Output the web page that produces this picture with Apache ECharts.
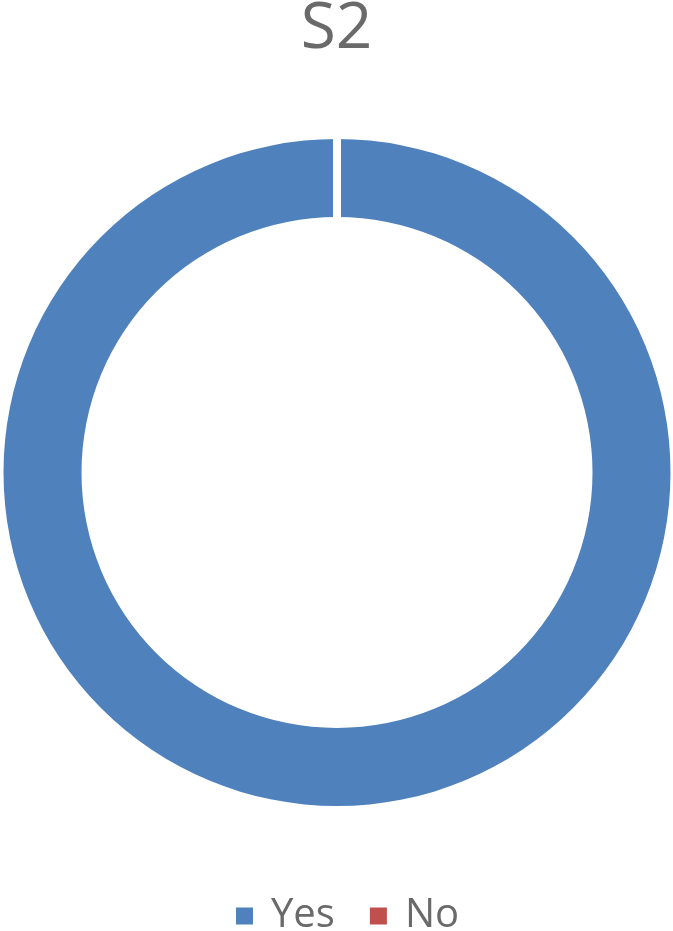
<!DOCTYPE html>
<html>
<head>
<meta charset="utf-8">
<script src="https://cdn.jsdelivr.net/npm/echarts@6/dist/echarts.min.js"></script>
<style>
  html, body { margin: 0; padding: 0; background: #fff; }
  #chart { width: 673px; height: 931px; }
</style>
</head>
<body>
<div id="chart"></div>
<script>
// data
var categories = ['Yes', 'No'];
var values = [100, 0];
var colors = ['#4F81BD', '#C0504D'];
var titleText = 'S2';

var textColor = '#6a6a6a';
var fontFamily = '"Open Sans", "Noto Sans", sans-serif';

var myChart = echarts.init(document.getElementById('chart'));

var pieData = categories.map(function (name, i) {
  var item = { name: name, value: values[i], itemStyle: { color: colors[i] } };
  if (values[i] === 0) {
    // zero slice shows up as the white cut at the top
    item.itemStyle.borderColor = '#ffffff';
    item.itemStyle.borderWidth = 8;
  }
  return item;
});

var option = {
  backgroundColor: '#ffffff',
  animation: false,
  title: {
    text: titleText,
    left: 'center',
    top: -7,
    textStyle: {
      fontFamily: fontFamily,
      fontSize: 64,
      fontWeight: 'normal',
      color: textColor
    }
  },
  legend: {
    data: categories,
    left: 231,
    top: 889,
    icon: 'rect',
    itemWidth: 17,
    itemHeight: 17,
    itemGap: 35,
    itemStyle: { borderWidth: 0 },
    textStyle: {
      fontFamily: fontFamily,
      fontSize: 40,
      lineHeight: 44,
      color: textColor,
      padding: [0, 0, 0, 13]
    }
  },
  tooltip: { show: false },
  series: [
    {
      name: titleText,
      type: 'pie',
      center: [337, 472.5],
      radius: [255.5, 333.5],
      startAngle: 90,
      clockwise: true,
      avoidLabelOverlap: false,
      label: { show: false },
      labelLine: { show: false },
      emphasis: { disabled: true },
      data: pieData
    }
  ]
};

myChart.setOption(option);
window.addEventListener('resize', function () {
  myChart.resize();
});
</script>
</body>
</html>
